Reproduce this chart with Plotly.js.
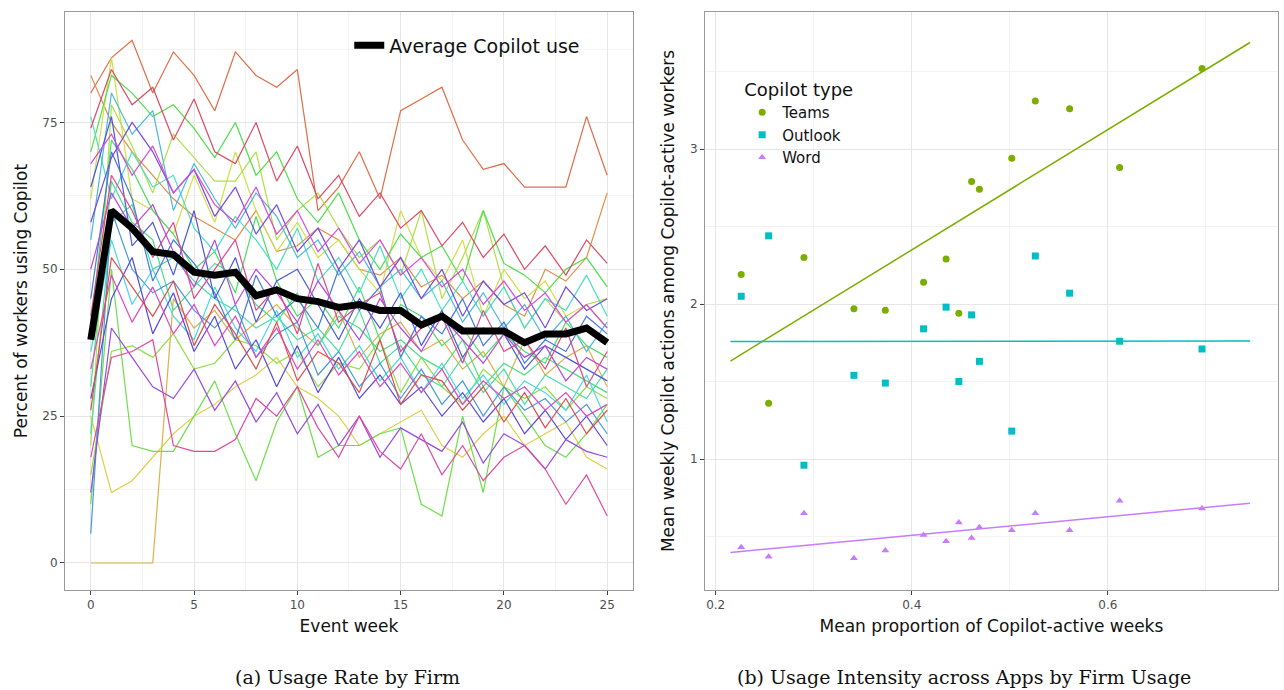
<!DOCTYPE html>
<html><head><meta charset="utf-8">
<script src="https://cdn.plot.ly/plotly-3.0.1.min.js"></script>
<style>body{margin:0;background:#fff}</style></head>
<body><div id="c" style="width:1284px;height:690px"></div>
<script>
const weeks=[0,1,2,3,4,5,6,7,8,9,10,11,12,13,14,15,16,17,18,19,20,21,22,23,24,25];
const avgUse=[38,60,57,53,52.5,49.5,49,49.5,45.5,46.5,45,44.5,43.5,44,43,43,40.5,42,39.5,39.5,39.5,37.5,39,39,40,37.5];
const firms=[
[80,86,89,80,87,83,77,87,83,81,84,60,64,70,62,77,79,81,72,67,68,64,64,64,76,66],
[83,75,70,66,62,59,57,55,60,53,54,57,55,50,49,52,47,49,45,48,44,42,50,48,52,63],
[0,0,0,0,45,40,43,38,41,44,40,37,43,35,39,41,36,38,33,36,30,38,32,35,37,30],
[25,12,14,18,22,25,27,30,32,35,30,28,25,20,22,24,26,20,18,22,25,20,22,24,18,16],
[62,86,62,60,56,66,58,70,60,53,58,52,55,50,46,60,52,48,55,42,50,45,48,42,44,40],
[20,78,71,63,73,69,65,65,70,55,60,63,57,52,55,49,60,45,52,60,47,40,45,41,44,45],
[15,36,37,35,39,33,34,38,37,34,36,30,34,33,38,29,35,30,27,33,30,28,30,26,30,28],
[10,50,20,19,19,25,31,22,14,24,30,18,20,20,22,23,10,8,25,12,30,25,20,18,22,27],
[70,83,80,76,78,74,69,75,66,70,62,58,63,55,50,56,52,54,48,60,51,49,46,50,52,47],
[40,72,67,60,56,50,53,46,59,48,42,45,40,47,38,44,42,37,40,35,39,36,34,41,37,35],
[30,65,58,55,43,47,51,49,44,41,46,37,42,40,36,38,35,33,38,30,34,32,35,33,31,29],
[22,58,61,50,52,48,45,43,40,42,38,40,36,43,34,37,32,30,35,29,33,27,32,30,28,33],
[76,62,70,64,66,57,53,59,55,50,57,48,52,46,54,45,50,43,48,42,47,40,45,43,49,42],
[36,55,44,50,42,38,47,40,36,43,35,39,33,37,31,35,29,34,28,32,27,31,29,26,32,24],
[55,80,73,77,60,68,62,57,63,59,52,55,49,53,47,50,45,48,41,46,40,44,38,42,36,41],
[5,60,50,46,48,43,40,44,35,39,41,32,36,30,34,28,33,27,31,25,30,26,28,24,27,22],
[45,70,62,48,55,51,46,38,49,42,45,40,50,43,47,35,42,39,45,37,41,34,38,36,42,39],
[64,76,54,58,49,60,45,52,41,48,50,44,38,45,40,46,37,43,35,40,39,33,37,35,33,31],
[28,45,52,39,46,36,42,33,38,30,37,29,35,28,32,27,30,25,29,24,28,22,26,21,25,20],
[58,69,75,70,63,67,59,64,56,61,53,57,50,55,47,52,45,50,42,48,44,46,40,47,43,45],
[12,40,35,30,28,33,26,31,24,29,22,27,20,25,18,23,21,19,24,17,22,20,16,21,19,18],
[50,63,57,61,53,47,55,44,50,46,41,48,43,38,45,40,36,42,38,34,39,35,37,31,35,33],
[68,73,66,71,63,67,61,58,64,56,60,53,57,51,55,49,52,47,50,44,48,43,46,41,44,40],
[33,49,41,47,39,44,37,42,35,40,33,38,32,36,30,34,29,33,27,31,28,30,26,29,25,27],
[18,35,36,38,20,19,19,21,28,25,30,23,18,25,19,16,22,15,20,14,18,20,16,10,15,8],
[42,66,60,52,58,45,50,55,43,47,39,51,41,44,46,36,40,42,34,43,36,38,33,40,30,36],
[74,84,78,81,72,79,70,68,75,65,71,62,66,59,63,57,60,54,58,52,56,50,54,49,55,51],
[26,52,47,42,48,37,44,39,33,41,31,36,34,29,38,27,32,31,26,30,24,29,23,28,22,26]
];
const teamsX=[0.226,0.254,0.290,0.341,0.373,0.412,0.435,0.448,0.461,0.469,0.502,0.526,0.561,0.612,0.696];
const teamsY=[2.19,1.36,2.30,1.97,1.96,2.14,2.29,1.94,2.79,2.74,2.94,3.31,3.26,2.88,3.52];
const outlookY=[2.05,2.44,0.96,1.54,1.49,1.84,1.98,1.50,1.93,1.63,1.18,2.31,2.07,1.76,1.71];
const wordY=[0.43,0.37,0.65,0.36,0.41,0.51,0.47,0.59,0.49,0.56,0.54,0.65,0.54,0.73,0.68];

function fit(x,y){const n=x.length;const mx=x.reduce((a,b)=>a+b)/n,my=y.reduce((a,b)=>a+b)/n;
let sxy=0,sxx=0;for(let i=0;i<n;i++){sxy+=(x[i]-mx)*(y[i]-my);sxx+=(x[i]-mx)**2;}
const b=sxy/sxx,a=my-b*mx;return xs=>xs.map(v=>a+b*v);}
const fx=[0.215,0.745];
const traces=[];
firms.forEach((f,i)=>{const h=Math.round(i*360/firms.length+15)%360;
traces.push({x:weeks,y:f,mode:'lines',line:{width:1.2,color:`hsl(${h},70%,58%)`},showlegend:false,hoverinfo:'skip',xaxis:'x',yaxis:'y'});});
traces.push({x:weeks,y:avgUse,mode:'lines',name:'Average Copilot use',line:{width:7,color:'#000'},legend:'legend',xaxis:'x',yaxis:'y'});
const apps=[['Teams',teamsY,'#7CAE00','circle'],['Outlook',outlookY,'#00BFC4','square'],['Word',wordY,'#C77CFF','triangle-up']];
apps.forEach(([n,y,c,s])=>{
traces.push({x:teamsX,y:y,mode:'markers',name:n,marker:{color:c,symbol:s,size:7},xaxis:'x2',yaxis:'y2',legend:'legend2'});
traces.push({x:fx,y:fit(teamsX,y)(fx),mode:'lines',line:{color:c,width:1.5},showlegend:false,xaxis:'x2',yaxis:'y2'});});
const ax={showline:true,mirror:true,linecolor:'#999',linewidth:1,gridcolor:'#e6e6e6',zeroline:false,ticks:'outside',ticklen:4,tickcolor:'#444',
tickfont:{family:'DejaVu Sans',size:12,color:'#4d4d4d'},minor:{showgrid:true,gridcolor:'#f3f3f3'}};
const tf={family:'DejaVu Sans',size:17,color:'#111'};
const layout={width:1284,height:690,margin:{l:0,r:0,t:12,b:100},paper_bgcolor:'#fff',plot_bgcolor:'#fff',
xaxis:{...ax,domain:[0.0506,0.493],range:[-1.25,26.25],tickvals:[0,5,10,15,20,25],minor:{...ax.minor,dtick:2.5},title:{text:'Event week',font:tf,standoff:8}},
yaxis:{...ax,range:[-4.6,93.8],tickvals:[0,25,50,75],minor:{...ax.minor,dtick:12.5},title:{text:'Percent of workers using Copilot',font:tf,standoff:10}},
xaxis2:{...ax,anchor:'y2',domain:[0.549,0.9953],range:[0.189,0.7735],tickvals:[0.2,0.4,0.6],ticktext:['0.2','0.4','0.6'],minor:{...ax.minor,dtick:0.1},title:{text:'Mean proportion of Copilot-active weeks',font:tf,standoff:8}},
yaxis2:{...ax,anchor:'x2',range:[0.155,3.884],tickvals:[1,2,3],minor:{...ax.minor,dtick:0.5},title:{text:'Mean weekly Copilot actions among Copilot-active workers',font:tf,standoff:10}},
legend:{x:0.272,y:0.975,xanchor:'left',yanchor:'top',bgcolor:'rgba(0,0,0,0)',font:{family:'DejaVu Sans',size:19,color:'#111'}},
legend2:{x:0.578,y:0.895,xanchor:'left',yanchor:'top',bgcolor:'rgba(0,0,0,0)',title:{text:'Copilot type',font:{family:'DejaVu Sans',size:18,color:'#111'}},font:{family:'DejaVu Sans',size:15,color:'#111'},tracegroupgap:0},
annotations:[
{text:'(a) Usage Rate by Firm',x:348/1284},
{text:'(b) Usage Intensity across Apps by Firm Usage',x:964/1284}
].map(a=>({...a,xref:'paper',yref:'paper',xanchor:'center',yanchor:'middle',showarrow:false,y:-(677-590)/578,font:{family:'DejaVu Serif',size:19,color:'#111'}}))};
Plotly.newPlot('c',traces,layout,{displayModeBar:false});
</script></body></html>
